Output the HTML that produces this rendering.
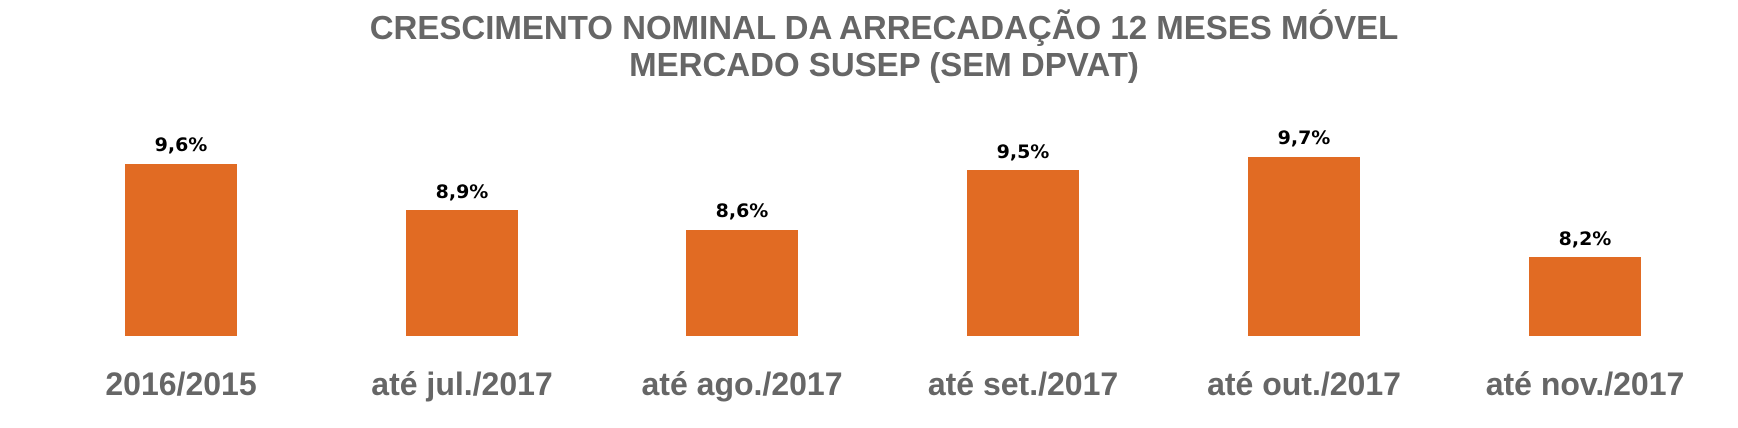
<!DOCTYPE html>
<html><head><meta charset="utf-8"><style>
html,body{margin:0;padding:0;background:#fff;}
body{width:1738px;height:428px;position:relative;overflow:hidden;font-family:"Liberation Sans",sans-serif;}
.t{position:absolute;left:0;width:1768px;text-align:center;font-weight:bold;color:#666;font-size:33px;line-height:38px;}
.b{position:absolute;background:#e16b23;width:112px;}
.v{position:absolute;width:160px;text-align:center;font-family:"DejaVu Sans",sans-serif;font-weight:bold;font-size:19px;line-height:22px;color:#000;}
.c{position:absolute;width:300px;text-align:center;font-weight:bold;font-size:32px;line-height:36px;color:#666;top:366px;}
</style></head><body>
<div class="t" style="top:9px">CRESCIMENTO NOMINAL DA ARRECADAÇÃO 12 MESES MÓVEL</div>
<div class="t" style="top:46px">MERCADO SUSEP (SEM DPVAT)</div>

<div class="b" style="left:125px;top:164px;height:172px"></div>
<div class="b" style="left:406px;top:210px;height:126px"></div>
<div class="b" style="left:686px;top:230px;height:106px"></div>
<div class="b" style="left:967px;top:170px;height:166px"></div>
<div class="b" style="left:1248px;top:157px;height:179px"></div>
<div class="b" style="left:1529px;top:257px;height:79px"></div>

<div class="v" style="left:101px;top:134px">9,6%</div>
<div class="v" style="left:382px;top:181px">8,9%</div>
<div class="v" style="left:662px;top:200px">8,6%</div>
<div class="v" style="left:943px;top:141px">9,5%</div>
<div class="v" style="left:1224px;top:127px">9,7%</div>
<div class="v" style="left:1505px;top:228px">8,2%</div>

<div class="c" style="left:31px">2016/2015</div>
<div class="c" style="left:312px">até jul./2017</div>
<div class="c" style="left:592px">até ago./2017</div>
<div class="c" style="left:873px">até set./2017</div>
<div class="c" style="left:1154px">até out./2017</div>
<div class="c" style="left:1435px">até nov./2017</div>
</body></html>
